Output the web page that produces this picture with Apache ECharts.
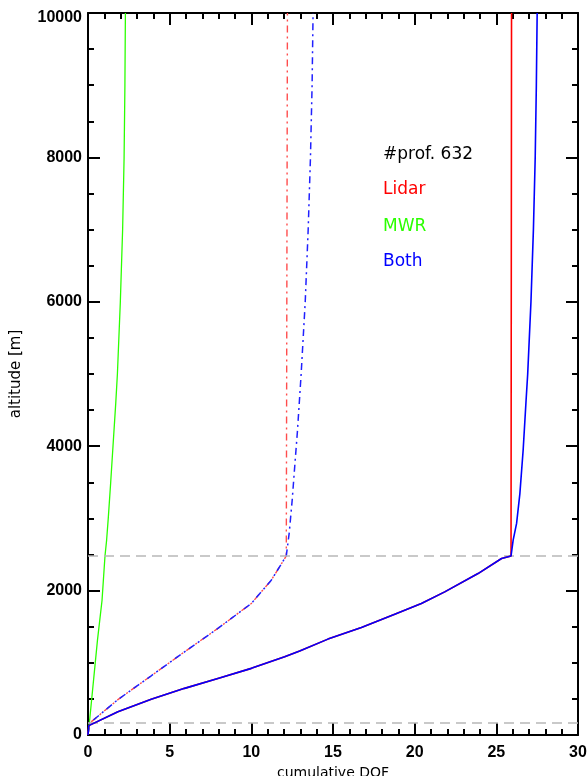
<!DOCTYPE html>
<html>
<head>
<meta charset="utf-8">
<script src="https://cdn.jsdelivr.net/npm/echarts@6/dist/echarts.min.js"></script>
<style>
  html, body { margin: 0; padding: 0; background: #fff; }
  #chart { width: 588px; height: 776px; }
</style>
</head>
<body>
<div id="chart"></div>
<script>
// Cumulative degrees of freedom (DOF) against altitude for three retrieval set-ups.
const profileCount = 632;
const legendLabels = ['Lidar', 'MWR', 'Both'];
const boundaryAlt = [165, 2480];   // horizontal reference levels [m]

// MWR only
const mwrAlt = [0, 160, 1314, 1867, 2480, 2700, 3000, 3500, 4000, 4600, 5000, 6000, 7000, 8000, 9000, 10000];
const mwrDof = [0, 0.08, 0.58, 0.86, 1.04, 1.14, 1.24, 1.39, 1.53, 1.70, 1.80, 1.98, 2.12, 2.21, 2.26, 2.29];

// solid curves: Lidar and Both coincide below the kink
const solidLowAlt = [0, 130, 322, 494, 646, 784, 923, 1083, 1165, 1328, 1490, 1674, 1822, 1982, 2236, 2444, 2480];
const solidLowDof = [0, 0.05, 1.83, 3.87, 5.91, 7.95, 10.0, 12.04, 12.96, 14.69, 16.74, 18.78, 20.41, 21.84, 23.88, 25.32, 25.90];
const lidarSolidTopAlt = [10000];
const lidarSolidTopDof = [25.93];
const bothSolidTopAlt = [2700, 2930, 3340, 3940, 4630, 5000, 6000, 7000, 8000, 9000, 10000];
const bothSolidTopDof = [26.03, 26.24, 26.44, 26.64, 26.82, 26.92, 27.12, 27.27, 27.38, 27.45, 27.50];

// dash-dot curves
const dashLowAlt = [0, 162, 490, 820, 1152, 1476, 1822, 2144, 2480];
const dashLowDof = [0, 0.09, 1.83, 3.87, 5.91, 7.95, 10.0, 11.22, 12.14];
const lidarDashTopAlt = [10000];
const lidarDashTopDof = [12.21];
const bothDashTopAlt = [2800, 3250, 3700, 4200, 5000, 6000, 7000, 8000, 9000, 10000];
const bothDashTopDof = [12.32, 12.50, 12.65, 12.82, 13.05, 13.30, 13.48, 13.62, 13.72, 13.78];

const pairs = (dof, alt) => dof.map((d, i) => [d, alt[i]]);

const RED = '#ff0000', GREEN = '#2bff00', BLUE = '#0000ff';
const DASHDOT = [7, 4, 2, 4];
const FONT = 'DejaVu Sans';
const TICK_FONT = 'Liberation Sans';
const TICK_STYLE = { color: '#000', width: 2 };

function axis(position, range, minorSplit, showLabels, extra) {
  return Object.assign({
    type: 'value',
    position,
    min: range.min, max: range.max, interval: range.interval,
    axisLine: { show: true, onZero: false, lineStyle: { color: '#000', width: 2 } },
    axisTick: { show: true, inside: true, length: 12, lineStyle: TICK_STYLE },
    minorTick: { show: true, splitNumber: minorSplit, length: 6, lineStyle: TICK_STYLE },
    splitLine: { show: false },
    minorSplitLine: { show: false },
    axisLabel: {
      show: showLabels, color: '#000', fontFamily: TICK_FONT, fontSize: 16, fontWeight: 'bold',
      formatter: v => String(v)
    }
  }, extra || {});
}

function line(name, data, color, width, dash, z) {
  return {
    name, type: 'line', data,
    xAxisIndex: 0, yAxisIndex: 0,
    showSymbol: false, symbol: 'none', smooth: false, clip: true, z,
    lineStyle: { color, width, type: dash || 'solid' }
  };
}

const chart = echarts.init(document.getElementById('chart'), null, { renderer: 'canvas' });

const xRange = { min: 0, max: 30, interval: 5 };
const yRange = { min: 0, max: 10000, interval: 2000 };

const xBottom = axis('bottom', xRange, 5, true, {
  name: 'cumulative DOF', nameLocation: 'middle', nameGap: 31,
  nameTextStyle: { color: '#000', fontFamily: FONT, fontSize: 14 }
});
xBottom.axisLabel.margin = 10;

const yLeft = axis('left', yRange, 4, true, {
  name: 'altitude [m]', nameLocation: 'middle', nameGap: 64,
  nameTextStyle: { color: '#000', fontFamily: FONT, fontSize: 15 }
});
yLeft.axisLabel.margin = 6;
// the top label sits just below the frame corner
yLeft.axisLabel.formatter = v => (v === yRange.max ? '{top|' + v + '}' : String(v));
yLeft.axisLabel.rich = {
  top: { fontFamily: TICK_FONT, fontSize: 16, fontWeight: 'bold', color: '#000', padding: [10, 0, 0, 0] }
};

chart.setOption({
  animation: false,
  backgroundColor: '#fff',
  grid: { left: 88, right: 10, top: 13, bottom: 41, containLabel: false, outerBoundsMode: 'none' },
  xAxis: [xBottom, axis('top', xRange, 5, false)],
  yAxis: [yLeft, axis('right', yRange, 4, false)],
  series: [
    {
      name: 'levels', type: 'line', data: [], z: 1,
      markLine: {
        silent: true, symbol: 'none', animation: false,
        label: { show: false },
        lineStyle: { color: '#b8b8b8', width: 1.5, type: [10, 6] },
        data: boundaryAlt.map(a => ({ yAxis: a }))
      }
    },
    line('MWR', pairs(mwrDof, mwrAlt), GREEN, 1.3, null, 3),
    Object.assign(line('Lidar (dash-dot)', pairs(dashLowDof.concat(lidarDashTopDof), dashLowAlt.concat(lidarDashTopAlt)), RED, 1.4, DASHDOT, 3),
      { lineStyle: { color: '#ff4d4d', width: 1.4, type: DASHDOT, dashOffset: 3 } }),
    line('Both (dash-dot)', pairs(dashLowDof.concat(bothDashTopDof), dashLowAlt.concat(bothDashTopAlt)), '#2020ff', 1.5, DASHDOT, 4),
    line('Lidar', pairs(solidLowDof.concat(lidarSolidTopDof), solidLowAlt.concat(lidarSolidTopAlt)), RED, 1.6, null, 5),
    line('Both', pairs(solidLowDof.concat(bothSolidTopDof), solidLowAlt.concat(bothSolidTopAlt)), BLUE, 1.6, null, 6)
  ],
  graphic: [
    { type: 'text', left: 383, top: 146, style: { text: '#prof. ' + profileCount, fill: '#000', font: '17px "DejaVu Sans"' } },
    { type: 'text', left: 383, top: 181, style: { text: legendLabels[0], fill: RED, font: '17px "DejaVu Sans"' } },
    { type: 'text', left: 383, top: 218, style: { text: legendLabels[1], fill: GREEN, font: '17px "DejaVu Sans"' } },
    { type: 'text', left: 383, top: 253, style: { text: legendLabels[2], fill: BLUE, font: '17px "DejaVu Sans"' } }
  ]
});
</script>
</body>
</html>
